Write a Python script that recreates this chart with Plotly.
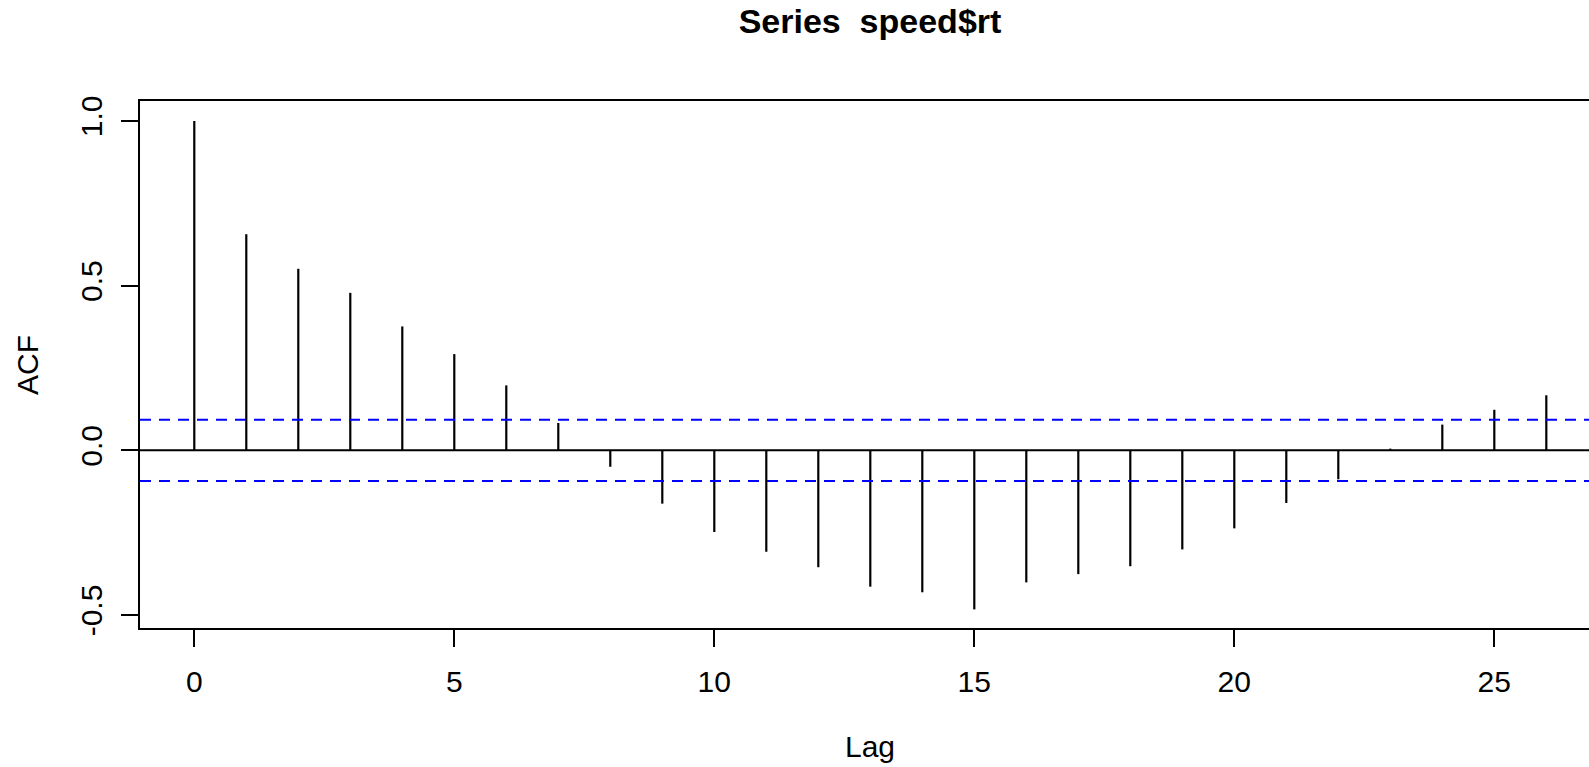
import plotly.graph_objects as go

# Autocorrelation of speed$rt, lags 0..26
lags = list(range(27))
acf = [1.0, 0.656, 0.551, 0.478, 0.376, 0.292, 0.197, 0.083, -0.050, -0.162,
       -0.248, -0.308, -0.355, -0.414, -0.431, -0.483, -0.401, -0.376, -0.352,
       -0.301, -0.237, -0.160, -0.088, 0.005, 0.078, 0.123, 0.167]
conf_limit = 0.093

x_ticks = [0, 5, 10, 15, 20, 25]
y_ticks = [-0.5, 0.0, 0.5, 1.0]
y_tick_text = ["-0.5", "0.0", "0.5", "1.0"]

W, H = 1589, 767
ML, MR, MT, MB = 140, 0, 101, 139
x_range = [-1.044, 26.821]
y_range = [-0.5395, 1.0604]

FONT = "Liberation Sans, Arial, Helvetica, sans-serif"
FS = 30

# vertical stems from 0 to each ACF value
sx, sy = [], []
for lag, v in zip(lags, acf):
    sx += [lag, lag, None]
    sy += [0, v, None]

fig = go.Figure()
fig.add_trace(go.Scatter(x=sx, y=sy, mode="lines",
                         line=dict(color="black", width=2.2),
                         hoverinfo="skip", showlegend=False))

# zero line and confidence bounds
fig.add_shape(type="line", xref="x", yref="y", x0=x_range[0], x1=x_range[1],
              y0=0, y1=0, line=dict(color="black", width=2), layer="below")
for c in (conf_limit, -conf_limit):
    fig.add_shape(type="line", xref="x", yref="y", x0=x_range[0], x1=x_range[1],
                  y0=c, y1=c, line=dict(color="#0000FF", width=2, dash="11px,8px"))

pw = W - ML - MR
ph = H - MT - MB


def px_to_paper_x(px):
    return (px - ML) / pw


def px_to_paper_y(py):
    return (H - MB - py) / ph


fig.add_annotation(text="Lag", x=px_to_paper_x(870), y=px_to_paper_y(746),
                   xref="paper", yref="paper", showarrow=False,
                   xanchor="center", yanchor="middle",
                   font=dict(family=FONT, size=FS, color="black"))
fig.add_annotation(text="ACF", x=px_to_paper_x(27), y=px_to_paper_y(365),
                   xref="paper", yref="paper", showarrow=False, textangle=-90,
                   xanchor="center", yanchor="middle",
                   font=dict(family=FONT, size=FS, color="black"))

fig.update_layout(
    width=W, height=H,
    margin=dict(l=ML, r=MR, t=MT, b=MB, pad=0),
    paper_bgcolor="white", plot_bgcolor="white",
    title=dict(text="<b>Series  speed$rt</b>", x=870 / W, xref="container",
               y=1 - 21 / H, yref="container", xanchor="center", yanchor="middle",
               font=dict(family=FONT, size=34, color="black")),
    xaxis=dict(range=x_range, tickvals=x_ticks, showgrid=False, zeroline=False,
               showline=True, linecolor="black", linewidth=2, mirror=True,
               ticks="outside", ticklen=17, tickwidth=2, tickcolor="black",
               ticklabelstandoff=9,
               tickfont=dict(family=FONT, size=FS, color="black")),
    yaxis=dict(range=y_range, tickvals=y_ticks, ticktext=y_tick_text,
               showgrid=False, zeroline=False, showline=True, linecolor="black",
               linewidth=2, mirror=False, ticks="outside", ticklen=17,
               tickwidth=2, tickcolor="black", tickangle=-90,
               ticklabelstandoff=7,
               tickfont=dict(family=FONT, size=FS, color="black")),
)

fig.write_html("out.html")
